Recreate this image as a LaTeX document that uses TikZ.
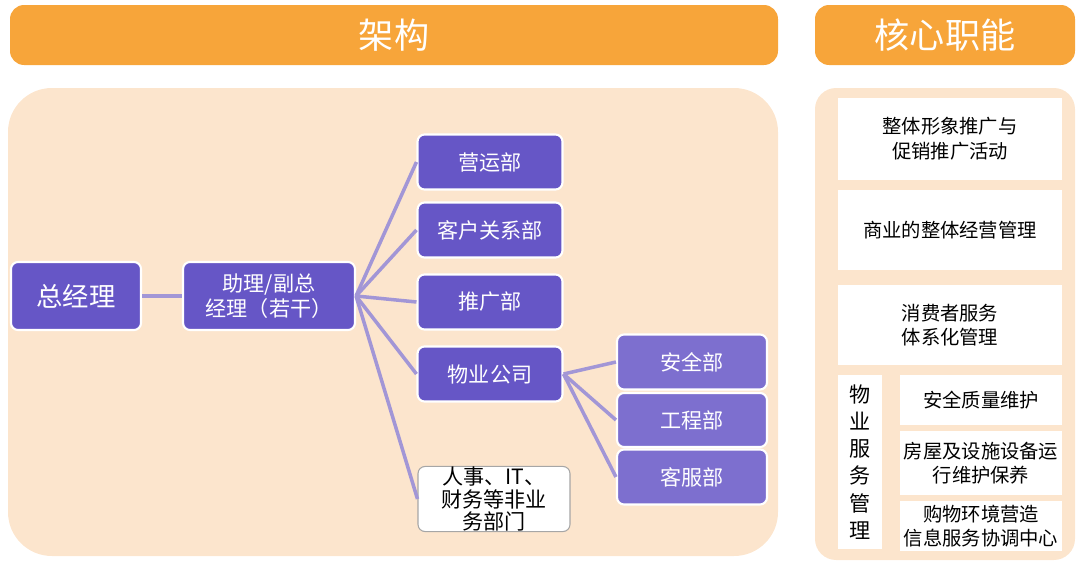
\documentclass[tikz,border=0pt]{standalone}
\usepackage{fontspec}
\setmainfont{Noto Sans CJK SC}
\usetikzlibrary{positioning}
\definecolor{hdr}{HTML}{F7A53A}
\definecolor{panel}{HTML}{FCE5CD}
\definecolor{dept}{HTML}{6656C6}
\definecolor{link}{HTML}{A296D6}
\tikzset{
    deptbox/.style={draw=white, line width=1.2pt, fill=dept, rounded corners=4pt, text=white, font=\fontsize{12}{14}\selectfont, align=center, inner sep=0pt},
    subbox/.style={deptbox, fill=dept!85!white},
    plainbox/.style={draw=gray!70, line width=.6pt, fill=white, rounded corners=4pt, font=\fontsize{12}{13}\selectfont, align=center, inner sep=0pt},
    rolebox/.style={fill=white, font=\fontsize{11}{14}\selectfont, align=center, inner sep=0pt},
    link/.style={draw=link, line width=2pt}
}
\begin{document}
\begin{tikzpicture}[x=0.02cm, y=-0.02cm]
    \useasboundingbox (0,0) rectangle (1080,568);
    % headers and panels
    \fill[hdr, rounded corners=8pt] (10,5) rectangle (778,65);
    \fill[hdr, rounded corners=8pt] (815,5) rectangle (1075,65);
    \node[text=white, font=\fontsize{20}{22}\selectfont] (tArch) at (394,35) {架构};
    \node[text=white, font=\fontsize{20}{22}\selectfont] (tFunc) at (945,35) {核心职能};
    \fill[panel, rounded corners=25pt] (8,88) rectangle (778,556);
    \fill[panel, rounded corners=12pt] (815,88) rectangle (1075,560);
    % organisation
    \node[deptbox, minimum width=2.6cm, minimum height=1.36cm, font=\fontsize{15}{17}\selectfont] (gm) at (76,296) {总经理};
    \node[deptbox, minimum width=3.44cm, minimum height=1.36cm] (vice) at (269,296) {助理/副总\\经理（若干）};
    \node[deptbox, minimum width=2.9cm, minimum height=1.1cm] (ops) at (490,162) {营运部};
    \node[deptbox, minimum width=2.9cm, minimum height=1.1cm] (crm) at (490,230) {客户关系部};
    \node[deptbox, minimum width=2.9cm, minimum height=1.1cm] (promo) at (490,302) {推广部};
    \node[deptbox, minimum width=2.9cm, minimum height=1.1cm] (prop) at (490,374) {物业公司};
    \node[plainbox, minimum width=3.04cm, minimum height=1.24cm] (admin) at (494,499) {人事、IT、\\财务等非业\\务部门};
    \node[subbox, minimum width=3cm, minimum height=1.1cm] (safe) at (692,362) {安全部};
    \node[subbox, minimum width=3cm, minimum height=1.08cm] (eng) at (692,420) {工程部};
    \node[subbox, minimum width=3cm, minimum height=1.1cm] (serv) at (692,477) {客服部};
    \draw[link] (gm) -- (vice);
    \foreach \d in {ops,crm,promo,prop,admin}
        \draw[link] (vice.east) -- (\d.west);
    \foreach \d in {safe,eng,serv}
        \draw[link] (prop.east) -- (\d.west);
    % core functions
    \node[rolebox, minimum width=4.48cm, minimum height=1.64cm] (f1) at (950,139) {整体形象推广与\\促销推广活动};
    \node[rolebox, minimum width=4.48cm, minimum height=1.6cm] (f2) at (950,230) {商业的整体经营管理};
    \node[rolebox, minimum width=4.48cm, minimum height=1.6cm] (f3) at (950,325) {消费者服务\\体系化管理};
    \node[rolebox, minimum width=0.88cm, minimum height=3.5cm, font=\fontsize{12}{15.5}\selectfont] (f4) at (860,462) {物\\业\\服\\务\\管\\理};
    \node[rolebox, minimum width=3.24cm, minimum height=1cm] (f5) at (981,400) {安全质量维护};
    \node[rolebox, minimum width=3.24cm, minimum height=1.3cm] (f6) at (981,463) {房屋及设施设备运\\行维护保养};
    \node[rolebox, minimum width=3.24cm, minimum height=1cm] (f7) at (981,526) {购物环境营造\\信息服务协调中心};
\end{tikzpicture}
\end{document}
